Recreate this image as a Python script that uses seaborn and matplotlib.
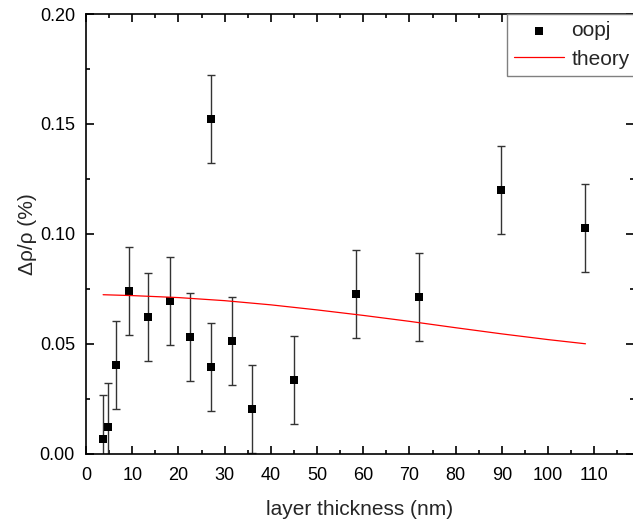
import numpy as np
import pandas as pd
import matplotlib
matplotlib.use("Agg")
import matplotlib.pyplot as plt
import seaborn as sns
from matplotlib.ticker import MultipleLocator

# measured points
thickness = [3.7, 4.7, 6.4, 9.2, 13.5, 18.1, 22.5, 27.1, 27.0, 31.6, 36.0, 45.1, 58.5, 72.0, 89.9, 107.9]
drho = [0.0067, 0.0124, 0.0406, 0.0741, 0.0621, 0.0695, 0.0530, 0.0397, 0.1521, 0.0514, 0.0205, 0.0336, 0.0729, 0.0715, 0.1200, 0.1029]
drho_err = [0.02] * len(thickness)

# theory curve
theory_x = [3.7, 10, 20, 30, 40, 50, 60, 70, 80, 90, 100, 108.1]
theory_y = [0.0724, 0.0720, 0.0711, 0.0697, 0.0678, 0.0655, 0.0630, 0.0603, 0.0574, 0.0546, 0.0520, 0.0501]

df = pd.DataFrame({"thickness": thickness, "drho": drho, "err": drho_err})
df_th = pd.DataFrame({"x": theory_x, "y": theory_y})

sns.set_style("ticks")
plt.rcParams['font.family'] = ['Liberation Sans', 'DejaVu Sans']

fig = plt.figure(figsize=(6.33, 5.24), dpi=100)
ax = fig.add_axes([86/633, 70/524, (634-86)/633, (454-14)/524])

ax.errorbar(df["thickness"], df["drho"], yerr=df["err"], fmt="none",
            ecolor="#333333", elinewidth=1.0, capsize=3, capthick=1.0, zorder=2)
sns.scatterplot(data=df, x="thickness", y="drho", marker="s", s=38, color="black",
                edgecolor="black", linewidth=0, ax=ax, label="oopj", zorder=3)
sns.lineplot(data=df_th, x="x", y="y", color="red", linewidth=0.9, ax=ax, label="theory", zorder=4)

ax.set_xlim(0, 118.6)
ax.set_ylim(0, 0.20)
ax.xaxis.set_major_locator(MultipleLocator(10))
ax.xaxis.set_minor_locator(MultipleLocator(5))
ax.yaxis.set_major_locator(MultipleLocator(0.05))
ax.yaxis.set_minor_locator(MultipleLocator(0.025))
ax.yaxis.set_major_formatter(matplotlib.ticker.FormatStrFormatter("%.2f"))
ax.tick_params(which="both", direction="in", top=True, right=True, labelsize=13, colors="black", width=1.2)
ax.tick_params(which="major", length=6)
ax.tick_params(which="minor", length=3)
ax.tick_params(axis="x", pad=9)
ax.tick_params(axis="y", pad=8)
for s in ax.spines.values():
    s.set_linewidth(1.2)
    s.set_color("black")

ax.set_xlabel("layer thickness (nm)", fontsize=15, labelpad=12)
ax.set_ylabel("Δρ/ρ (%)", fontsize=15, labelpad=2)

leg = ax.legend(loc="upper left", bbox_to_anchor=(0.768, 1.0), borderaxespad=0,
                fancybox=False, framealpha=1, edgecolor="gray", fontsize=15,
                handlelength=2.4, handletextpad=0.35, borderpad=0.35, labelspacing=0.45)
leg.get_frame().set_linewidth(1.0)

fig.savefig("out.png", dpi=100)
